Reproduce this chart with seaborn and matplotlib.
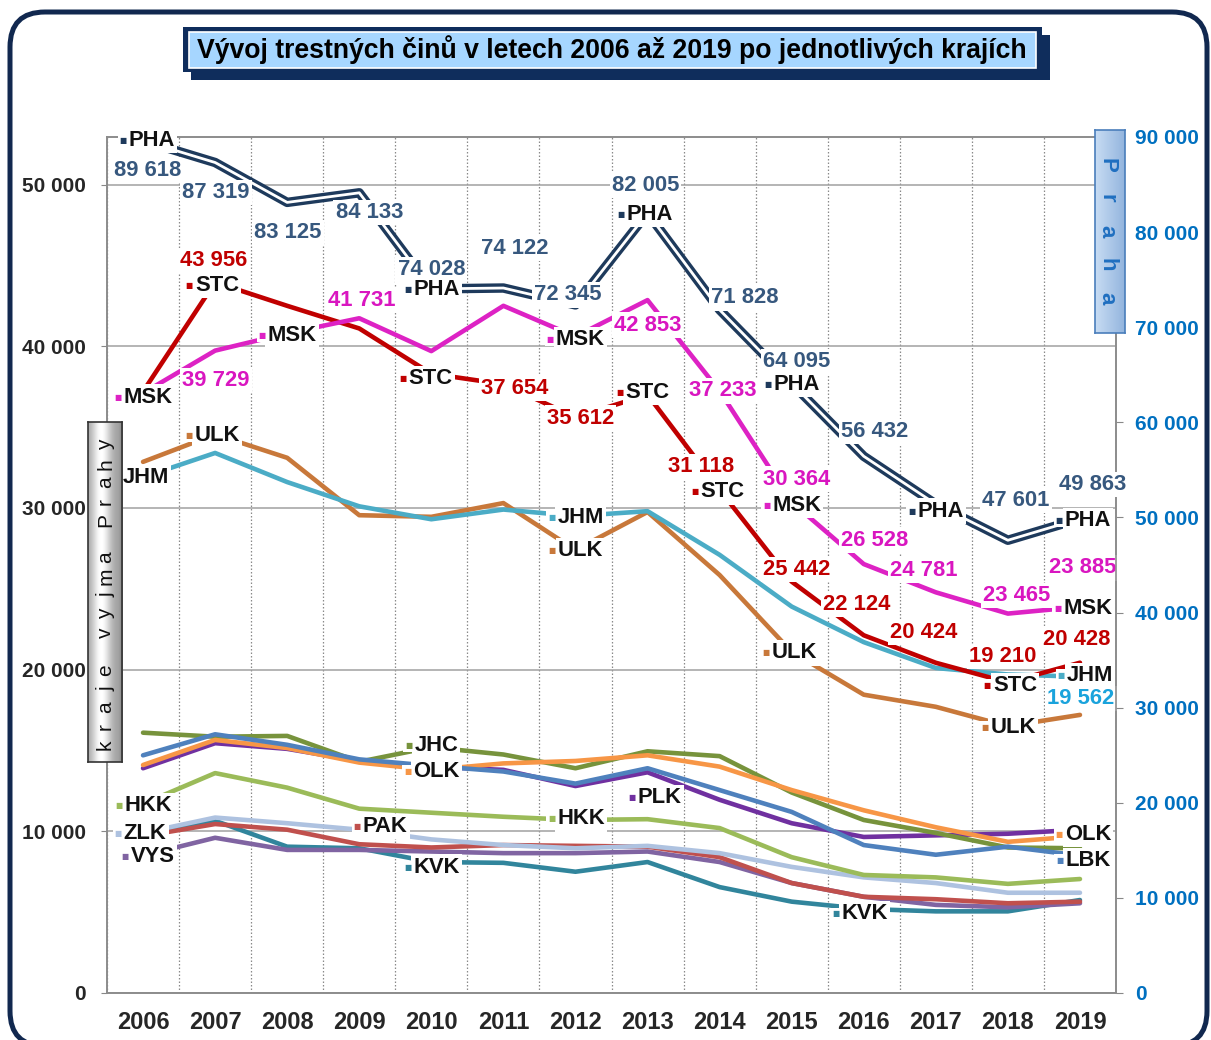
import numpy as np
import pandas as pd
import matplotlib
matplotlib.use("Agg")
import matplotlib.pyplot as plt
import matplotlib.patheffects as pe
from matplotlib.patches import FancyBboxPatch, Rectangle
from matplotlib.ticker import FixedLocator, FuncFormatter
import seaborn as sns

# ---------------- data ----------------
years = list(range(2006, 2020))
PHA = [89618, 87319, 83125, 84133, 74028, 74122, 72345, 82005, 71828, 64095, 56432, 51400, 47601, 49863]
STC = [37200, 43956, 42500, 41100, 38300, 37654, 35612, 37000, 31118, 25442, 22124, 20424, 19210, 20428]
MSK = [37100, 39729, 40800, 41731, 39700, 42500, 40600, 42853, 37233, 30364, 26528, 24781, 23465, 23885]
JHM = [31900, 33400, 31600, 30100, 29300, 29900, 29500, 29800, 27100, 23900, 21700, 20100, 19700, 19562]
ULK = [32850, 34550, 33100, 29550, 29450, 30300, 27400, 29750, 25850, 21100, 18450, 17700, 16500, 17200]
JHC = [16100, 15850, 15900, 14300, 15200, 14750, 13900, 14950, 14650, 12400, 10700, 9900, 9000, 8950]
OLK = [14100, 15650, 15150, 14250, 13800, 14200, 14350, 14700, 14000, 12550, 11300, 10250, 9350, 9700]
LBK = [14700, 16000, 15350, 14450, 14050, 13700, 12950, 13900, 12550, 11200, 9150, 8550, 9050, 8500]
PLK = [13900, 15450, 15100, 14350, 14000, 13800, 12800, 13650, 11950, 10500, 9650, 9750, 9850, 10100]
HKK = [11700, 13600, 12700, 11400, 11150, 10900, 10700, 10750, 10200, 8400, 7300, 7150, 6750, 7050]
ZLK = [9900, 10850, 10500, 10100, 9500, 9150, 8950, 9100, 8650, 7800, 7150, 6800, 6200, 6200]
PAK = [9700, 10450, 10100, 9200, 9000, 9150, 9100, 9050, 8400, 6800, 5950, 5800, 5550, 5650]
VYS = [8500, 9600, 8850, 8850, 8750, 8650, 8650, 8750, 8100, 6800, 5950, 5450, 5300, 5550]
KVK = [9850, 10650, 9050, 8950, 8100, 8050, 7500, 8100, 6550, 5650, 5200, 5050, 5050, 5750]

values = {"PHA": PHA, "STC": STC, "MSK": MSK, "JHM": JHM, "ULK": ULK, "JHC": JHC,
          "OLK": OLK, "LBK": LBK, "PLK": PLK, "HKK": HKK, "ZLK": ZLK, "PAK": PAK,
          "VYS": VYS, "KVK": KVK}
left_regions = ["KVK", "VYS", "PAK", "ZLK", "HKK", "PLK", "JHC", "OLK", "LBK",
                "ULK", "JHM", "STC", "MSK"]

title = "Vývoj trestných činů v letech 2006 až 2019 po jednotlivých krajích"
left_title = "kraje vyjma Prahy"
right_title = "Praha"

# ---------------- styles ----------------
navy = "#1E3A5C"
colors = {"PHA": navy, "STC": "#C00000", "MSK": "#DD22C4", "JHM": "#4BACC6",
          "ULK": "#C8783A", "JHC": "#77933C", "OLK": "#F79646", "LBK": "#4F81BD",
          "PLK": "#7030A0", "HKK": "#9BBB59", "ZLK": "#AEC2E0", "PAK": "#C0504D",
          "VYS": "#8064A2", "KVK": "#31859C"}
value_colors = {"PHA": "#37587E", "STC": "#C00000", "MSK": "#D916C0", "JHM": "#1AA3DC"}

# labels: (region, year index, kind, dx px, dy px (down positive))
labels = [
    ("PHA", 0, "name", 4, 0), ("PHA", 0, "value", 5, 30),
    ("PHA", 1, "value", 1, 30), ("PHA", 2, "value", 1, 30), ("PHA", 3, "value", 10, 20),
    ("PHA", 4, "value", 0, -19), ("PHA", 4, "name", 0, 1),
    ("PHA", 5, "value", 11, -40), ("PHA", 6, "value", -8, -10),
    ("PHA", 7, "value", -2, -28), ("PHA", 7, "name", -3, 1),
    ("PHA", 8, "value", 25, -12),
    ("PHA", 9, "value", 5, -22), ("PHA", 9, "name", 0, 1),
    ("PHA", 10, "value", 11, -25), ("PHA", 11, "name", 0, 7),
    ("PHA", 12, "value", 8, -40),
    ("PHA", 13, "value", 13, -34), ("PHA", 13, "name", 3, 2),
    ("STC", 1, "value", -1, -22), ("STC", 1, "name", -3, 3),
    ("STC", 4, "name", -6, 5), ("STC", 5, "value", 11, 4), ("STC", 6, "value", 5, 1),
    ("STC", 7, "name", -5, -2),
    ("STC", 8, "value", -19, -23), ("STC", 8, "name", -2, 2),
    ("STC", 9, "value", 5, -12), ("STC", 10, "value", -7, -31),
    ("STC", 11, "value", -12, -30),
    ("STC", 12, "value", -5, -26), ("STC", 12, "name", 2, 3),
    ("STC", 13, "value", -3, -23),
    ("MSK", 0, "name", 0, 4), ("MSK", 1, "value", 1, 30), ("MSK", 2, "name", 0, 2),
    ("MSK", 3, "value", 3, -18), ("MSK", 6, "name", 0, 3), ("MSK", 7, "value", 0, 25),
    ("MSK", 8, "value", 3, 0),
    ("MSK", 9, "value", 5, -23), ("MSK", 9, "name", 0, 3),
    ("MSK", 10, "value", 11, -24), ("MSK", 11, "value", -12, -22),
    ("MSK", 12, "value", 9, -18),
    ("MSK", 13, "value", 3, -39), ("MSK", 13, "name", 3, 2),
    ("ULK", 1, "name", -3, 1), ("ULK", 6, "name", 0, 1), ("ULK", 9, "name", -2, 1),
    ("ULK", 12, "name", 0, 1),
    ("JHM", 0, "name", -2, 0), ("JHM", 6, "name", 0, 1),
    ("JHM", 13, "name", 5, -1), ("JHM", 13, "value", 1, 22),
    ("JHC", 4, "name", 0, -2), ("OLK", 4, "name", 0, 2), ("OLK", 13, "name", 3, -2),
    ("LBK", 13, "name", 3, 5), ("PLK", 7, "name", 7, 25),
    ("HKK", 0, "name", 0, 2), ("HKK", 6, "name", 1, -1),
    ("ZLK", 0, "name", -3, 1), ("VYS", 0, "name", 5, 1), ("PAK", 3, "name", 21, -18),
    ("KVK", 4, "name", 0, 5), ("KVK", 10, "name", -4, 5),
]

W, H = 1211, 1040
sns.set_style("white")
plt.rcParams["font.family"] = ["Liberation Sans", "DejaVu Sans"]

fig = plt.figure(figsize=(W / 100, H / 100), dpi=100)


def px_rect(x0, y0, x1, y1):
    return [x0 / W, 1 - y1 / H, (x1 - x0) / W, (y1 - y0) / H]


ax = fig.add_axes(px_rect(107, 137, 1116, 993))
df = pd.DataFrame([{"rok": i, "kraj": k, "pocet": v}
                   for k in left_regions for i, v in enumerate(values[k])])
sns.lineplot(data=df, x="rok", y="pocet", hue="kraj", hue_order=left_regions,
             palette={k: colors[k] for k in left_regions}, linewidth=3.3,
             legend=False, estimator=None, sort=False, ax=ax)

ax2 = ax.twinx()
dfp = pd.DataFrame({"rok": np.arange(len(years)), "pocet": PHA})
sns.lineplot(data=dfp, x="rok", y="pocet", color="white", linewidth=2.0, ax=ax2,
             path_effects=[pe.Stroke(linewidth=6.8, foreground=navy), pe.Normal()])

fmt = FuncFormatter(lambda v, p: f"{int(round(v)):,}".replace(",", " "))
ax.set_xlim(-0.5, len(years) - 0.5)
ax.set_ylim(0, 90000 / 1.7)
ax2.set_ylim(0, 90000)
ax.set_xticks(range(len(years)))
ax.set_xticklabels([str(y) for y in years], fontsize=17, fontweight="bold")
ax.xaxis.set_minor_locator(FixedLocator(np.arange(-0.5, len(years), 1)))
ax.tick_params(axis="x", which="major", length=0, pad=13)
ax.tick_params(axis="x", which="minor", length=6, color="#888888", width=1)
ax.set_yticks(range(0, 50001, 10000))
ax.yaxis.set_major_formatter(fmt)
ax.tick_params(axis="y", length=4, color="#888888", labelsize=15, pad=11)
for t in ax.get_yticklabels():
    t.set_fontweight("bold")
ax2.set_yticks(range(0, 90001, 10000))
ax2.yaxis.set_major_formatter(fmt)
ax2.tick_params(axis="y", length=5, color="#888888", labelsize=15, pad=9,
                labelcolor="#0070C0")
for t in ax2.get_yticklabels():
    t.set_fontweight("bold")
ax.grid(which="minor", axis="x", linestyle=(0, (1.2, 1.6)), color="#8a8a8a", lw=0.9)
ax.grid(which="major", axis="y", color="#a0a0a0", lw=1.1)
ax.grid(which="major", axis="x", visible=False)
ax2.grid(False)
ax.set_axisbelow(True)
for a in (ax, ax2):
    a.set_xlabel("")
    a.set_ylabel("")
    for s in a.spines.values():
        s.set_color("#8c8c8c")
        s.set_linewidth(1.2)


def fmtnum(v):
    return f"{v:,}".replace(",", " ")


for reg, i, kind, dx, dy in labels:
    axis = ax2 if reg == "PHA" else ax
    v = values[reg][i]
    if kind == "value":
        axis.annotate(fmtnum(v), xy=(i, v), xytext=(dx, -dy), textcoords="offset pixels",
                      ha="center", va="center", fontsize=15.8, fontweight="bold",
                      color=value_colors[reg], zorder=6,
                      bbox=dict(boxstyle="square,pad=0.1", fc="white", ec="none"))
    else:
        t = axis.annotate(reg, xy=(i, v), xytext=(dx + 5, -dy), textcoords="offset pixels",
                          ha="center", va="center", fontsize=15.8, fontweight="bold",
                          color="#111111", zorder=6,
                          bbox=dict(boxstyle="square,pad=0.1", fc="white", ec="none"))
        axis.annotate("\u25A0", xy=(0, 0.5), xycoords=t, xytext=(-2, 0),
                      textcoords="offset pixels", ha="right", va="center",
                      fontsize=5.5, color=colors[reg], family="DejaVu Sans", zorder=7,
                      bbox=dict(boxstyle="square,pad=0.25", fc="white", ec="none"))

# ---------------- decorations ----------------
# outer rounded frame
frame = FancyBboxPatch((0.10, -0.06), 11.97, 10.34, boxstyle="round,pad=0,rounding_size=0.35",
                       transform=fig.dpi_scale_trans, fc="none", ec="#11284F", lw=3.6,
                       zorder=0)
fig.patches.append(frame)

# title box
fig.patches.append(Rectangle((191 / W, 1 - 80 / H), (1050 - 191) / W, (80 - 35) / H,
                             transform=fig.transFigure, fc="#0F2D5C", ec="none", zorder=1))
fig.patches.append(Rectangle((183 / W, 1 - 72 / H), (1042 - 183) / W, (72 - 27) / H,
                             transform=fig.transFigure, fc="#0F2D5C", ec="none", zorder=2))
fig.patches.append(Rectangle((189 / W, 1 - 68 / H), (1036 - 189) / W, (68 - 32) / H,
                             transform=fig.transFigure, fc="#A6D6FF", ec="white", lw=1.2,
                             zorder=3))
fig.text(612 / W, 1 - 50 / H, title, ha="center", va="center", fontsize=19.2,
         fontweight="bold", color="black", zorder=4)

# left gray cylinder box
bx = fig.add_axes(px_rect(88, 422, 122, 762))
xs = np.linspace(0, 1, 60)
shade = 0.62 + 0.38 * np.exp(-((xs - 0.38) / 0.28) ** 2)
shade[-8:] *= np.linspace(1, 0.85, 8)
bx.imshow(np.tile(shade, (10, 1)), cmap="gray", vmin=0, vmax=1, aspect="auto",
          extent=(0, 1, 0, 1))
bx.set_xlim(0, 1)
bx.set_ylim(0, 1)
bx.set_xticks([])
bx.set_yticks([])
for s in bx.spines.values():
    s.set_color("#333333")
    s.set_linewidth(1.2)
bx.set_zorder(10)
pos = 745
for ch in left_title:
    if ch == " ":
        pos -= 18.75
        continue
    bx.text(0.68, 1 - (pos - 422) / 340, ch, rotation=90, rotation_mode="anchor",
            ha="center", va="baseline", fontsize=15, color="#111111",
            transform=bx.transAxes)
    pos -= 18.75

# right blue box
rb = fig.add_axes(px_rect(1095, 130, 1125, 333))
grad = np.linspace(0, 1, 60)
blue_img = np.zeros((10, 60, 3))
c0 = np.array([0xC8, 0xDC, 0xF3]) / 255
c1 = np.array([0x93, 0xB5, 0xDE]) / 255
for j, g in enumerate(grad):
    blue_img[:, j, :] = c0 * (1 - g) + c1 * g
rb.imshow(blue_img, aspect="auto", extent=(0, 1, 0, 1))
rb.set_xlim(0, 1)
rb.set_ylim(0, 1)
rb.set_xticks([])
rb.set_yticks([])
for s in rb.spines.values():
    s.set_color("#4A7EBB")
    s.set_linewidth(1.2)
rb.set_zorder(10)
for k, ch in enumerate(right_title):
    y = 165 + 33.2 * k
    rb.text(0.22, 1 - (y - 130) / 203, ch, rotation=-90, rotation_mode="anchor",
            ha="center", va="baseline", fontsize=16, fontweight="bold", color="#1F6FC0",
            transform=rb.transAxes)

fig.savefig("out.png", dpi=100, facecolor="white")
